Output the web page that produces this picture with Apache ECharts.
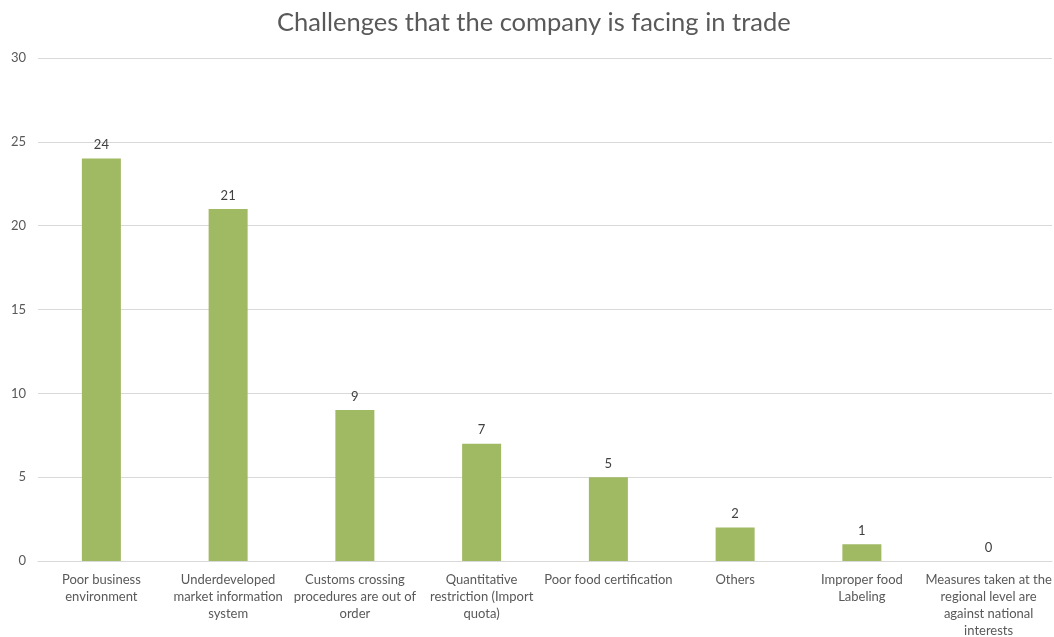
<!DOCTYPE html>
<html>
<head>
<meta charset="utf-8">
<script src="https://cdn.jsdelivr.net/npm/echarts@6/dist/echarts.min.js"></script>
<style>
  html, body { margin: 0; padding: 0; background: #ffffff; }
  #chart { width: 1054px; height: 637px; }
</style>
</head>
<body>
<div id="chart"></div>
<script>
// Trade challenges reported by the company (count of responses)
const categories = [
  "Poor business\nenvironment",
  "Underdeveloped\nmarket information\nsystem",
  "Customs crossing\nprocedures are out of\norder",
  "Quantitative\nrestriction (Import\nquota)",
  "Poor food certification",
  "Others",
  "Improper food\nLabeling",
  "Measures taken at the\nregional level are\nagainst national\ninterests"
];
const counts = [24, 21, 9, 7, 5, 2, 1, 0];
const chartTitle = "Challenges that the company is facing in trade";

const fontFamily = "Lato, 'Open Sans', sans-serif";
const chart = echarts.init(document.getElementById("chart"), null, { renderer: "canvas" });

chart.setOption({
  animation: false,
  backgroundColor: "#ffffff",
  title: {
    text: chartTitle,
    left: 277,
    top: 10,
    padding: 0,
    textStyle: { fontFamily, fontSize: 25.5, fontWeight: "normal", color: "#595959" }
  },
  grid: { left: 38, right: 2, top: 58, bottom: 76, containLabel: false, outerBoundsMode: "none" },
  xAxis: {
    type: "category",
    data: categories,
    axisTick: { show: false },
    axisLine: { lineStyle: { color: "#d9d9d9", width: 1 } },
    axisLabel: {
      interval: 0,
      margin: 10,
      fontFamily,
      fontSize: 13,
      lineHeight: 17,
      color: "#595959",
      align: "center"
    }
  },
  yAxis: {
    type: "value",
    min: 0,
    max: 30,
    interval: 5,
    axisLine: { show: false },
    axisTick: { show: false },
    splitLine: { lineStyle: { color: "#d9d9d9", width: 1 } },
    axisLabel: { fontFamily, fontSize: 13, color: "#595959", margin: 12 }
  },
  series: [{
    type: "bar",
    data: counts,
    barWidth: 39,
    itemStyle: { color: "#a0b963" },
    label: {
      show: true,
      position: "top",
      distance: 7,
      fontFamily,
      fontSize: 13,
      color: "#404040"
    }
  }]
});
</script>
</body>
</html>
